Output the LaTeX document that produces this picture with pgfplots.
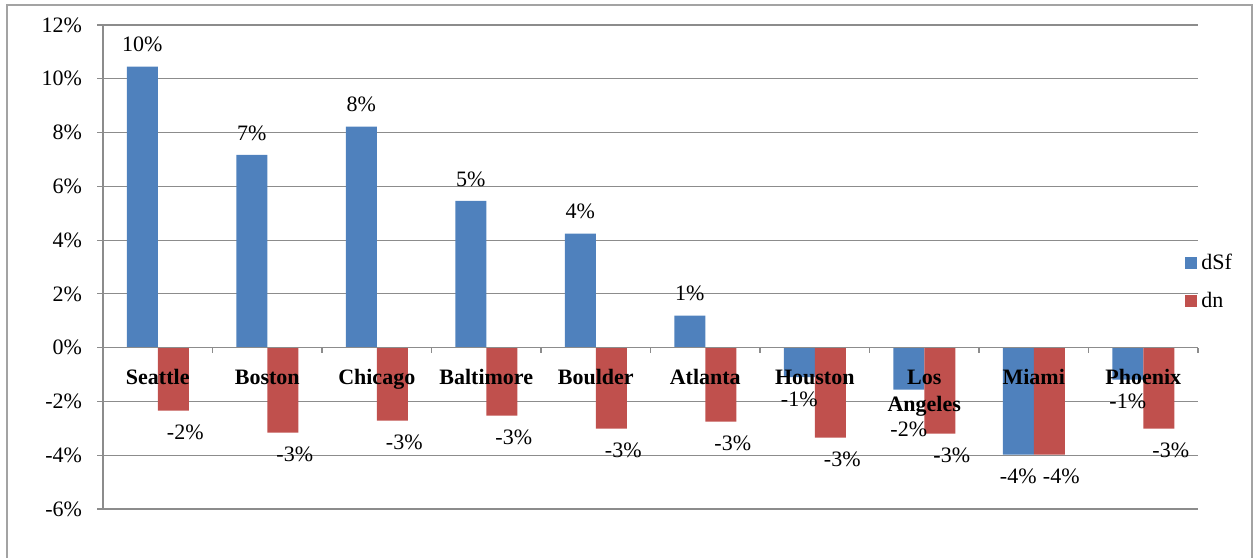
\documentclass[border=0pt]{standalone}
\usepackage{fontspec}
\setmainfont{Liberation Serif}
\usepackage{pgfplots}
\pgfplotsset{compat=1.18}
\usepackage{pgfplotstable}

\definecolor{xlblue}{HTML}{4F81BD}
\definecolor{xlred}{HTML}{C0504D}
\definecolor{xlgrid}{HTML}{8C8C8C}

\newcommand{\cs}{\rule{0pt}{8pt}}% same top for every city label

% city index, dSf (%), dn (%)
\pgfplotstableread{
x dSf dn
0 10.45 -2.34
1 7.17 -3.16
2 8.22 -2.71
3 5.46 -2.53
4 4.24 -3.01
5 1.19 -2.75
6 -1.10 -3.35
7 -1.56 -3.20
8 -3.98 -3.98
9 -1.19 -3.01
}\citydata

\begin{document}
\begin{tikzpicture}[font=\fontsize{11}{13}\selectfont]
\begin{axis}[
  set layers,
  at={(0,0)}, anchor=south west,
  scale only axis,
  width=547.5pt, height=242pt,
  ybar=0pt, bar width=15.5pt,
  xmin=-0.5, xmax=9.5,
  ymin=-6, ymax=12,
  ytick={-6,-4,...,12},
  axis x line*=middle, axis y line*=left,
  hide obscured y ticks=false,
  axis line style={xlgrid, line width=0.6pt, -},
  ymajorgrids, grid style={xlgrid, line width=0.6pt},
  ytick align=outside, major tick length=3pt,
  tick style={xlgrid, line width=0.6pt},
  /pgf/number format/assume math mode=true,
  yticklabel={\pgfmathprintnumber{\tick}\%},
  yticklabel style={xshift=-4pt},
  xtick={0,...,9},
  xticklabels={\cs Seattle,\cs Boston,\cs Chicago,\cs Baltimore,\cs Boulder,\cs Atlanta,\cs Houston,{\cs Los\\Angeles},\cs Miami,\cs Phoenix},
  xticklabel style={font=\fontsize{11}{13.5}\selectfont\bfseries, align=center, yshift=-4pt},
  major x tick style={draw=none},
  extra x ticks={-0.5,0.5,...,9.5},
  extra x tick labels={},
  extra x tick style={major x tick style={draw=xlgrid}, tick align=outside, major tick length=2.5pt},
  nodes near coords={\pgfmathprintnumber[fixed,precision=0]{\pgfplotspointmeta}\%},
  every node near coord/.append style={font=\fontsize{11}{13}\selectfont, inner ysep=7pt, inner xsep=0pt, black},
  legend style={at={(0.988,0.469)}, anchor=west, draw=none, fill=none,
    inner sep=0pt, row sep=6pt, font=\fontsize{11}{13}\selectfont},
  legend cell align=left,
  legend image code/.code={\fill[#1] (0pt,-3pt) rectangle (6pt,3pt);},
]
\addplot[on layer=axis ticks, fill=xlblue, draw=none,
  coordinate style/.condition={x==7}{yshift=-9pt}] table[x=x, y=dSf] {\citydata};
\addplot[on layer=axis ticks, fill=xlred, draw=none,
  every node near coord/.append style={xshift=6pt}] table[x=x, y=dn] {\citydata};
\legend{dSf,dn}
\end{axis}
\pgfresetboundingbox
\useasboundingbox (-51.5pt,-24pt) rectangle (576.5pt,254.5pt);
\draw[xlgrid!80, line width=0.6pt] (-48pt,-40pt) rectangle (574.5pt,252pt);
\end{tikzpicture}
\end{document}
